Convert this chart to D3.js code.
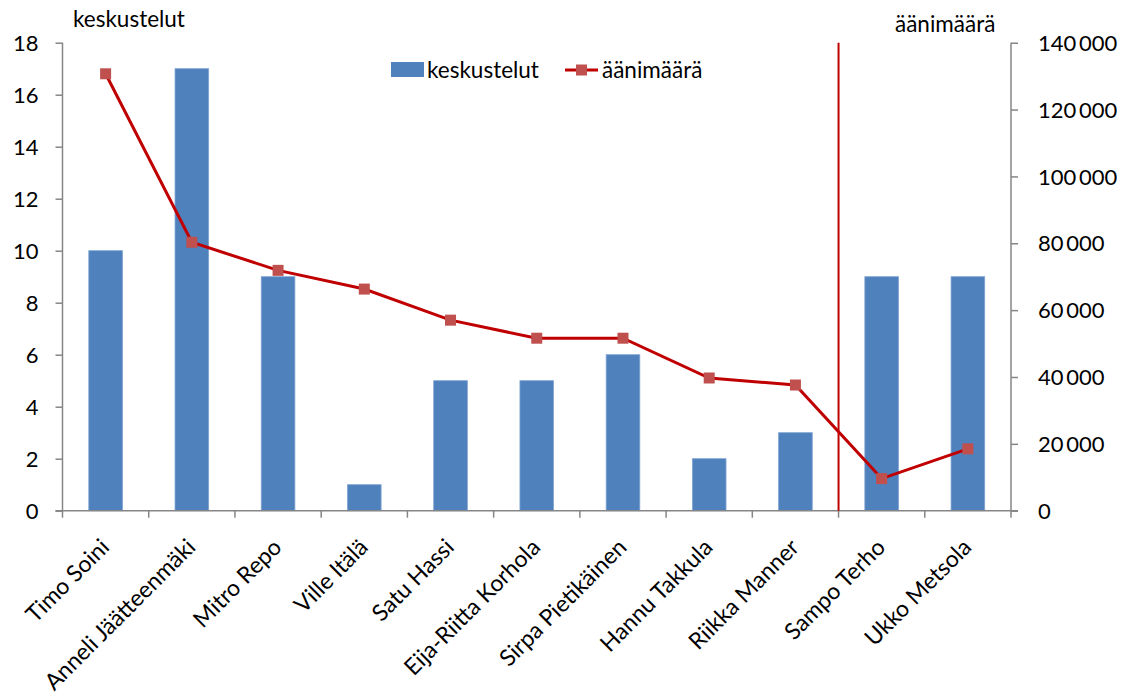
<!DOCTYPE html>
<html><head><meta charset="utf-8">
<script src="https://cdn.jsdelivr.net/npm/d3@7"></script>
<style>body{margin:0;background:#fff}svg{display:block}text{font-family:Lato,"Open Sans",sans-serif;fill:#000}</style>
</head><body>
<svg id="c" width="1121" height="700"></svg>
<script>
const names = ["Timo Soini","Anneli Jäätteenmäki","Mitro Repo","Ville Itälä","Satu Hassi","Eija-Riitta Korhola","Sirpa Pietikäinen","Hannu Takkula","Riikka Manner","Sampo Terho","Ukko Metsola"];
const keskustelut = [10,17,9,1,5,5,6,2,3,9,9];
const aanimaara = [130700,80300,71900,66300,57000,51600,51600,39700,37600,9600,18500];
const leftTicks = [0,2,4,6,8,10,12,14,16,18];
const rightTicks = [0,20000,40000,60000,80000,100000,120000,140000];
const dividerAfter = "Riikka Manner";

const svg = d3.select("#c");
const m = {l:62.5, r:1011, t:42.7, b:510.7};
const x = d3.scaleBand().domain(names).range([m.l, m.r]).paddingInner(0.61).paddingOuter(0.305);
const xb = d3.scaleBand().domain(names).range([m.l, m.r]);
const yL = d3.scaleLinear().domain([0,18]).range([m.b, m.t]);
const yR = d3.scaleLinear().domain([0,140000]).range([m.b, m.t]);
const fmt = v => d3.format(",")(v).replace(/,/g, "\u2009");
const axisCol = "#868686";
const FF = "Lato,'Open Sans',sans-serif";

// bars
svg.append("g").selectAll("rect").data(names).join("rect")
  .attr("x", d => x(d)).attr("width", x.bandwidth())
  .attr("y", (d,i) => yL(keskustelut[i])).attr("height", (d,i) => m.b - yL(keskustelut[i]))
  .attr("fill", "#4F81BD").attr("stroke", "#7FA3D1").attr("stroke-width", 0.8);

// left axis
const gL = svg.append("g").attr("transform", `translate(${m.l},0)`)
  .call(d3.axisLeft(yL).tickValues(leftTicks).tickSize(7).tickPadding(17));
// right axis
const gR = svg.append("g").attr("transform", `translate(${m.r},0)`)
  .call(d3.axisRight(yR).tickValues(rightTicks).tickSize(7).tickPadding(20).tickFormat(fmt));
// bottom axis
const bTicks = names.map(n => xb(n)).concat([m.r]);
const gB = svg.append("g").attr("transform", `translate(0,${m.b})`);
gB.append("line").attr("x1", m.l-7).attr("x2", m.r+7).attr("stroke", axisCol).attr("stroke-width", 1.5);
gB.selectAll("line.t").data(bTicks).join("line").attr("class","t")
  .attr("x1", d => d).attr("x2", d => d).attr("y1", 0).attr("y2", 7).attr("stroke", axisCol).attr("stroke-width", 1.5);
gB.selectAll("text").data(names).join("text")
  .attr("transform", d => `translate(${xb(d)+xb.bandwidth()/2+5},${38}) rotate(-45)`)
  .attr("text-anchor", "end").attr("font-size", 23).text(d => d);

[gL, gR].forEach(g => {
  g.select(".domain").attr("stroke", axisCol).attr("stroke-width", 1.5).attr("d", `M0,${m.b}V${m.t}`);
  g.selectAll(".tick line").attr("stroke", axisCol).attr("stroke-width", 1.5);
  g.selectAll(".tick text").attr("font-size", 22).attr("font-family", FF).attr("dy", "0.35em");
});
gR.selectAll(".tick text").attr("text-anchor", "start");

// divider
const dx = xb(names[names.indexOf(dividerAfter)+1]);
svg.append("line").attr("x1", dx).attr("x2", dx).attr("y1", m.t).attr("y2", m.b)
  .attr("stroke", "#C00000").attr("stroke-width", 2);

// line
const cx = n => xb(n) + xb.bandwidth()/2;
svg.append("path").datum(names).attr("fill","none").attr("stroke","#C00000").attr("stroke-width",3)
  .attr("d", d3.line().x(n => cx(n)).y((n,i) => yR(aanimaara[i])));
svg.append("g").selectAll("rect").data(names).join("rect")
  .attr("x", n => cx(n)-5.5).attr("y", (n,i) => yR(aanimaara[i])-5.5).attr("width", 11).attr("height", 11)
  .attr("fill", "#C0504D");

// axis titles
svg.append("text").attr("x", 73).attr("y", 27).attr("font-size", 22.5).text("keskustelut");
svg.append("text").attr("x", 895).attr("y", 32).attr("font-size", 22.5).text("äänimäärä");

// legend
const lg = svg.append("g");
lg.append("rect").attr("x", 391).attr("y", 62).attr("width", 33).attr("height", 15).attr("fill", "#4F81BD");
lg.append("text").attr("x", 427).attr("y", 78).attr("font-size", 22.5).text("keskustelut");
lg.append("line").attr("x1", 565).attr("x2", 598).attr("y1", 70).attr("y2", 70).attr("stroke", "#C00000").attr("stroke-width", 3);
lg.append("rect").attr("x", 576).attr("y", 64.5).attr("width", 11).attr("height", 11).attr("fill", "#C0504D");
lg.append("text").attr("x", 602).attr("y", 78).attr("font-size", 22.5).text("äänimäärä");
</script>
</body></html>
